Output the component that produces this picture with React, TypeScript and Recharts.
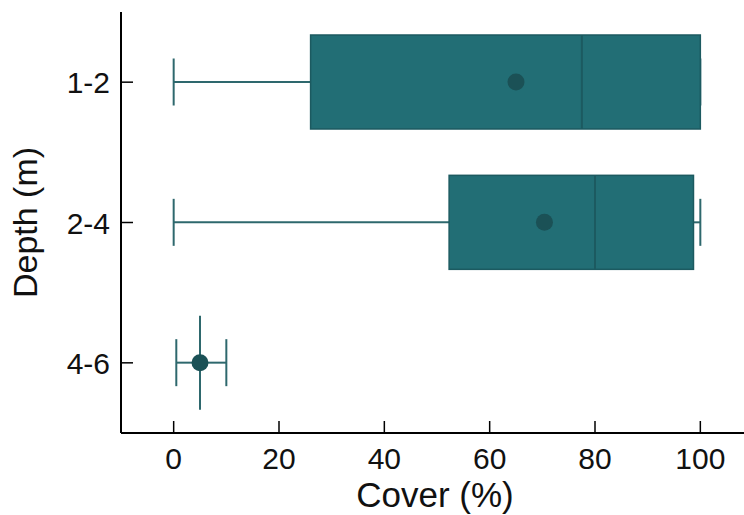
import React from "react";
import { ComposedChart, Bar, XAxis, YAxis } from "recharts";

const depths = ["1-2", "2-4", "4-6"];
const whiskerLow = [0, 0, 0.5];
const q1Values = [26, 52.3, 5];
const medianValues = [77.5, 80, 5];
const q3Values = [100, 98.7, 5];
const whiskerHigh = [100, 100, 10];
const meanValues = [65, 70.4, 5];
const xTicks = [0, 20, 40, 60, 80, 100];

const data = depths.map((d, i) => ({
  depth: d,
  min: whiskerLow[i],
  q1: q1Values[i],
  median: medianValues[i],
  q3: q3Values[i],
  max: whiskerHigh[i],
  mean: meanValues[i],
  range: [whiskerLow[i], whiskerHigh[i]],
}));

const FONT = "'Liberation Sans', Arial, sans-serif";
const BOX_FILL = "#226E75";
const BOX_STROKE = "#1C5A60";
const WHISKER = "#2E686D";
const MEAN = "#1B5156";

const BoxShape = (props: any) => {
  const { x, y, width, height, payload } = props;
  const { min, q1, median, q3, max, mean } = payload;
  const k = width / (max - min);
  const px = (v: number) => x + (v - min) * k;
  const cy = y + height / 2;
  const capH = height / 4;
  const boxW = px(q3) - px(q1);
  return (
    <g>
      <line x1={px(min)} x2={px(q1)} y1={cy} y2={cy} stroke={WHISKER} strokeWidth={2} />
      <line x1={px(q3)} x2={px(max)} y1={cy} y2={cy} stroke={WHISKER} strokeWidth={2} />
      <line x1={px(min)} x2={px(min)} y1={cy - capH} y2={cy + capH} stroke={WHISKER} strokeWidth={2} />
      <line x1={px(max)} x2={px(max)} y1={cy - capH} y2={cy + capH} stroke={WHISKER} strokeWidth={2} />
      {boxW > 0 && (
        <rect x={px(q1)} y={y} width={boxW} height={height} fill={BOX_FILL} stroke={BOX_STROKE} strokeWidth={1.5} />
      )}
      <line
        x1={px(median)}
        x2={px(median)}
        y1={y}
        y2={y + height}
        stroke={boxW > 0 ? BOX_STROKE : WHISKER}
        strokeWidth={2}
      />
      <circle cx={px(mean)} cy={cy} r={8.5} fill={MEAN} />
    </g>
  );
};

const XTick = (props: any) => {
  const { x, y, payload } = props;
  return (
    <g>
      <line x1={x} x2={x} y1={y} y2={y - 12} stroke="#000" strokeWidth={1.5} />
      <text x={x} y={y + 36} textAnchor="middle" fontFamily={FONT} fontSize={30} fill="#111">
        {payload.value}
      </text>
    </g>
  );
};

const YTick = (props: any) => {
  const { x, y, payload } = props;
  return (
    <g>
      <line x1={x} x2={x + 12} y1={y} y2={y} stroke="#000" strokeWidth={1.5} />
      <text x={x - 11} y={y + 11} textAnchor="end" fontFamily={FONT} fontSize={30} fill="#111">
        {payload.value}
      </text>
    </g>
  );
};

const XLabel = (props: any) => {
  const { viewBox } = props;
  const cx = viewBox.x + viewBox.width / 2 - 2;
  return (
    <text x={cx} y={507} textAnchor="middle" fontFamily={FONT} fontSize={35} fill="#111">
      Cover (%)
    </text>
  );
};

const YLabel = (props: any) => {
  const { viewBox } = props;
  const cy = viewBox.y + viewBox.height / 2;
  return (
    <text
      x={37}
      y={cy}
      transform={`rotate(-90 37 ${cy})`}
      textAnchor="middle"
      fontFamily={FONT}
      fontSize={34}
      fill="#111"
    >
      Depth (m)
    </text>
  );
};

export default function App() {
  return (
    <div
      style={{
        position: "absolute",
        left: 0,
        top: 0,
        width: 744,
        height: 515,
        overflow: "hidden",
        background: "#fff",
      }}
    >
      <ComposedChart
        width={800}
        height={515}
        data={data}
        layout="vertical"
        margin={{ top: 12, right: 47, bottom: 0, left: 0 }}
        barCategoryGap={0}
      >
        <XAxis
          type="number"
          xAxisId="main"
          domain={[-10, 110]}
          ticks={xTicks}
          allowDataOverflow
          height={82}
          tickSize={0}
          tickMargin={0}
          tickLine={false}
          axisLine={{ stroke: "#000", strokeWidth: 2 }}
          tick={<XTick />}
          label={<XLabel />}
        />
        <XAxis
          type="number"
          xAxisId="top"
          orientation="top"
          domain={[-10, 110]}
          height={0}
          tick={false}
          tickLine={false}
          axisLine={{ stroke: "#000", strokeWidth: 2 }}
        />
        <YAxis
          type="category"
          dataKey="depth"
          width={121}
          tickSize={0}
          tickMargin={0}
          tickLine={false}
          axisLine={{ stroke: "#000", strokeWidth: 2 }}
          tick={<YTick />}
          label={<YLabel />}
        />
        <Bar
          xAxisId="main"
          dataKey="range"
          barSize={94}
          shape={<BoxShape />}
          isAnimationActive={false}
        />
      </ComposedChart>
    </div>
  );
}
